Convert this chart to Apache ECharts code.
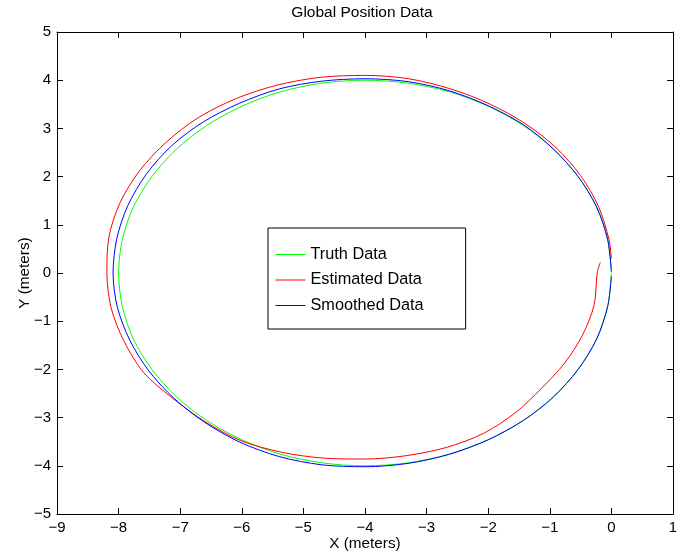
<!DOCTYPE html>
<html>
<head>
<meta charset="utf-8">
<script src="https://cdn.jsdelivr.net/npm/echarts@6/dist/echarts.min.js"></script>
<style>
html,body{margin:0;padding:0;background:#fff;}
#chart{width:696px;height:559px;}
</style>
</head>
<body>
<div id="chart"></div>
<script>
// Data: [x, y] in meters
var seriesNames = ['Truth Data', 'Estimated Data', 'Smoothed Data'];
var xTicks = [-9, -8, -7, -6, -5, -4, -3, -2, -1, 0, 1];
var yTicks = [-5, -4, -3, -2, -1, 0, 1, 2, 3, 4, 5];

var truthData = [
  [0.00, 0.00], [-0.06, 0.69], [-0.24, 1.37], [-0.54, 2.00], [-0.94, 2.57],
  [-1.43, 3.06], [-2.00, 3.46], [-2.63, 3.76], [-3.31, 3.94], [-4.00, 4.00],
  [-4.69, 3.94], [-5.37, 3.76], [-6.00, 3.46], [-6.57, 3.06], [-7.06, 2.57],
  [-7.46, 2.00], [-7.76, 1.37], [-7.94, 0.69], [-8.00, 0.00], [-7.94, -0.69],
  [-7.76, -1.37], [-7.46, -2.00], [-7.06, -2.57], [-6.57, -3.06], [-6.00, -3.46],
  [-5.37, -3.76], [-4.69, -3.94], [-4.00, -4.00], [-3.31, -3.94], [-2.63, -3.76],
  [-2.00, -3.46], [-1.43, -3.06], [-0.94, -2.57], [-0.54, -2.00], [-0.24, -1.37],
  [-0.06, -0.69], [0.00, -0.02]
];

var estimatedData = [
  [0.00, 0.30], [-0.04, 0.70], [-0.21, 1.38], [-0.50, 2.02], [-0.90, 2.60],
  [-1.40, 3.10], [-1.98, 3.51], [-2.61, 3.82], [-3.29, 4.03], [-4.00, 4.10],
  [-4.72, 4.06], [-5.42, 3.90], [-6.09, 3.62], [-6.71, 3.22], [-7.23, 2.71],
  [-7.66, 2.12], [-7.98, 1.45], [-8.16, 0.73], [-8.19, 0.00], [-8.12, -0.73],
  [-7.91, -1.42], [-7.59, -2.07], [-7.11, -2.61], [-6.59, -3.09], [-6.01, -3.48],
  [-5.35, -3.72], [-4.68, -3.84], [-4.00, -3.86], [-3.33, -3.79], [-2.68, -3.62],
  [-2.08, -3.33], [-1.56, -2.90], [-1.14, -2.40], [-0.76, -1.87], [-0.47, -1.29],
  [-0.28, -0.66], [-0.23, 0.00], [-0.18, 0.22]
];

var smoothedData = [
  [0.00, 0.03], [-0.06, 0.69], [-0.24, 1.37], [-0.54, 2.00], [-0.94, 2.57],
  [-1.42, 3.07], [-2.00, 3.47], [-2.63, 3.78], [-3.30, 3.97], [-4.00, 4.03],
  [-4.70, 3.98], [-5.39, 3.82], [-6.04, 3.52], [-6.63, 3.13], [-7.14, 2.64],
  [-7.55, 2.05], [-7.85, 1.40], [-8.03, 0.71], [-8.09, 0.00], [-8.02, -0.71],
  [-7.82, -1.39], [-7.51, -2.03], [-7.10, -2.60], [-6.60, -3.10], [-6.03, -3.51],
  [-5.39, -3.81], [-4.70, -3.98], [-4.00, -4.02], [-3.30, -3.95], [-2.63, -3.76],
  [-2.00, -3.46], [-1.43, -3.06], [-0.94, -2.57], [-0.54, -2.00], [-0.24, -1.37],
  [-0.06, -0.69], [0.00, -0.07]
];

var seriesColors = ['#00ff00', '#ff0000', '#0000ff'];

var FONT = '"Liberation Sans", Arial, Helvetica, sans-serif';
function minusFmt(v) { return String(v).replace('-', '\u2212'); }

var chart = echarts.init(document.getElementById('chart'), null, {renderer: 'canvas'});

function mkX(pos, showLabel) {
  return {
    type: 'value', position: pos, min: xTicks[0], max: xTicks[xTicks.length - 1], interval: 1,
    axisLine: {show: true, onZero: false, lineStyle: {color: '#000', width: 1}},
    axisTick: {show: true, inside: true, length: 6, lineStyle: {color: '#000'}},
    axisLabel: {show: showLabel, formatter: minusFmt, color: '#000', fontSize: 15, fontFamily: FONT, margin: 6},
    splitLine: {show: false},
    name: showLabel ? 'X (meters)' : '', nameLocation: 'middle', nameGap: 22,
    nameMoveOverlap: false,
    nameTextStyle: {color: '#000', fontSize: 15.3, fontFamily: FONT}
  };
}
function mkY(pos, showLabel) {
  return {
    type: 'value', position: pos, min: yTicks[0], max: yTicks[yTicks.length - 1], interval: 1,
    axisLine: {show: true, onZero: false, lineStyle: {color: '#000', width: 1}},
    axisTick: {show: true, inside: true, length: 6, lineStyle: {color: '#000'}},
    axisLabel: {show: showLabel, formatter: minusFmt, color: '#000', fontSize: 15, fontFamily: FONT, margin: 6},
    splitLine: {show: false},
    name: showLabel ? 'Y (meters)' : '', nameLocation: 'middle', nameGap: 25,
    nameMoveOverlap: false,
    nameTextStyle: {color: '#000', fontSize: 15.3, fontFamily: FONT}
  };
}

var dataSets = [truthData, estimatedData, smoothedData];

var option = {
  backgroundColor: '#fff',
  animation: false,
  title: {
    text: 'Global Position Data', left: 357, top: 0, textAlign: 'center',
    textStyle: {color: '#000', fontSize: 15.5, fontWeight: 'normal', fontFamily: FONT}
  },
  grid: {left: 57, right: 23, top: 32, bottom: 45, containLabel: false},
  xAxis: [mkX('bottom', true), mkX('top', false)],
  yAxis: [mkY('left', true), mkY('right', false)],
  legend: {
    data: seriesNames.map(function (n, i) {
      return {name: n, lineStyle: {color: seriesColors[i], width: 1}};
    }),
    orient: 'vertical', left: 268, top: 228,
    itemWidth: 30, itemHeight: 14, itemGap: 9.5,
    padding: [18.5, 42, 15.5, 7],
    borderColor: '#000', borderWidth: 1, backgroundColor: '#fff',
    itemStyle: {opacity: 0, color: 'rgba(0,0,0,0)', borderWidth: 0},
    textStyle: {color: '#000', fontSize: 16.3, fontFamily: FONT},
    selectedMode: false
  },
  series: seriesNames.map(function (n, i) {
    return {
      name: n, type: 'line', data: dataSets[i], xAxisIndex: 0, yAxisIndex: 0,
      symbol: 'none', showSymbol: false, smooth: 0.3,
      lineStyle: {color: seriesColors[i], width: 1},
      itemStyle: {color: seriesColors[i]},
      z: 2 + i
    };
  })
};
chart.setOption(option);
</script>
</body>
</html>
